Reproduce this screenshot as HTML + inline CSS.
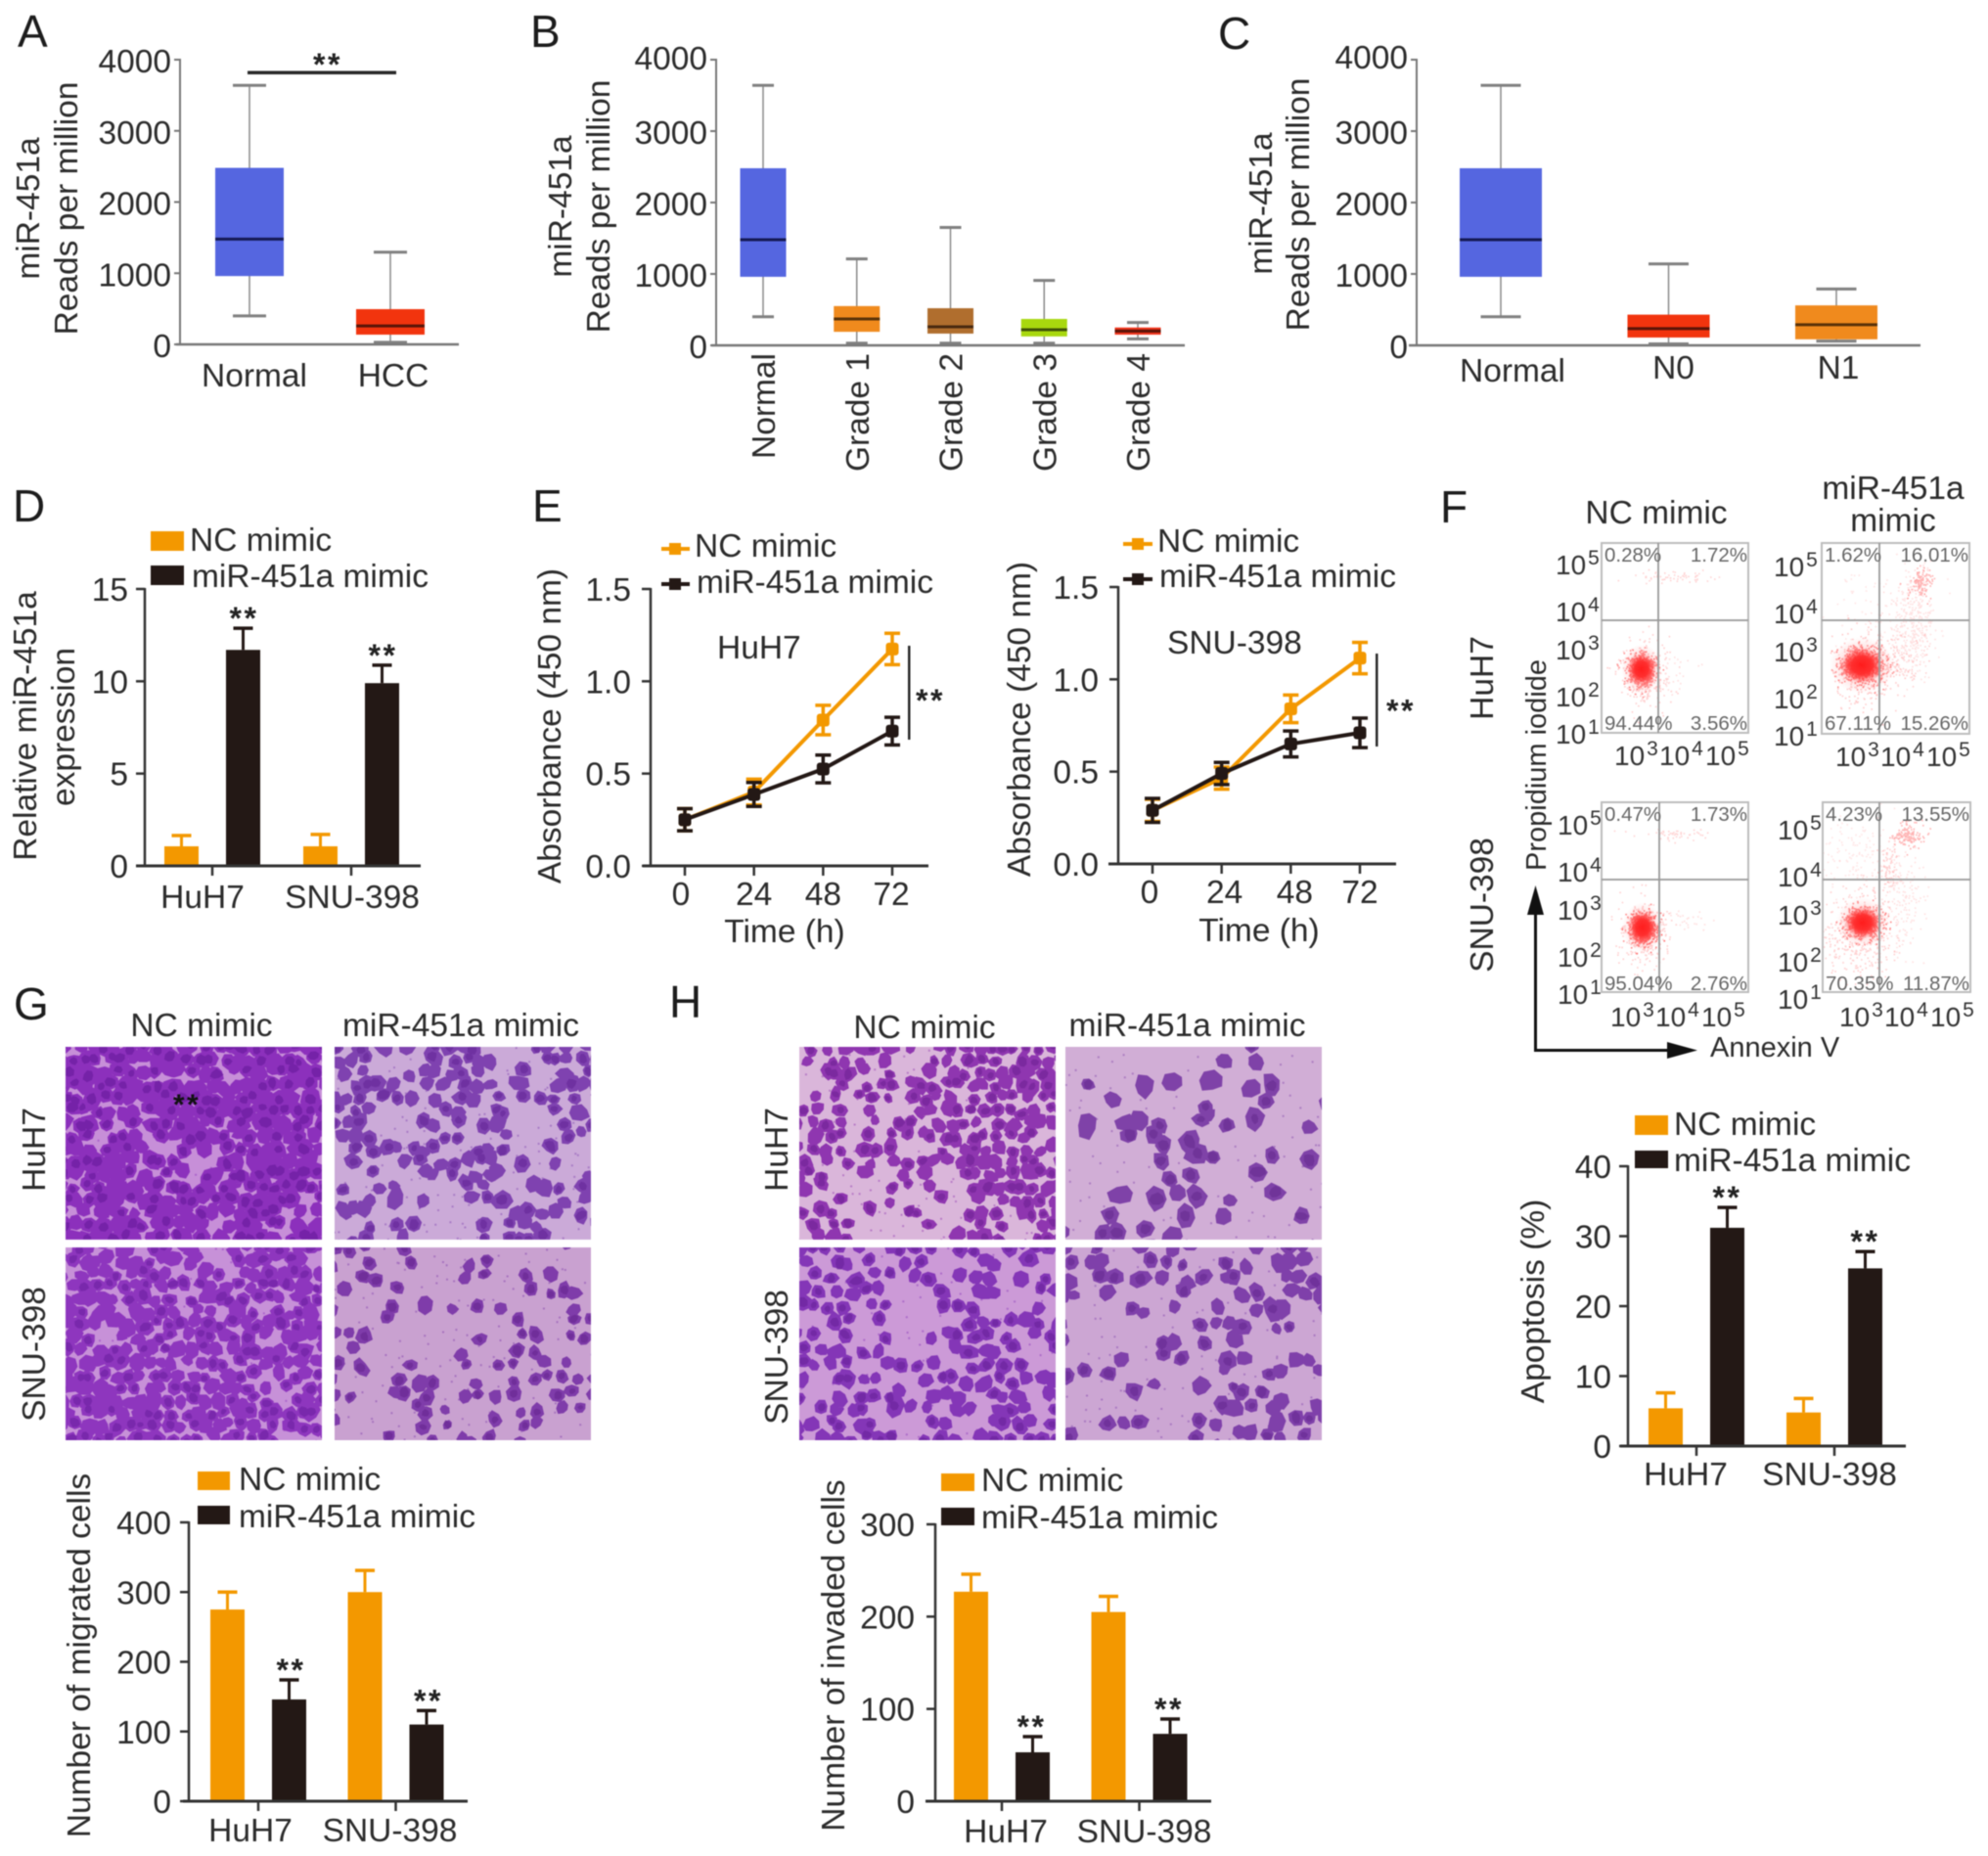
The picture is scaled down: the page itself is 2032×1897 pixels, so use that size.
<!DOCTYPE html>
<html lang="en">
<head>
<meta charset="utf-8">
<title>miR-451a figure panels A-H</title>
<style>
html,body{margin:0;padding:0;background:#fff;}
#figure{display:block;filter:blur(.55px);}
text{font-family:"Liberation Sans",Arial,sans-serif;fill:#2b2b2b;font-size:33.5px;}
.letter{font-size:46px;fill:#1c1c1c;}
.mir{font-size:33.5px;}
.stars{font-weight:bold;font-size:32px;letter-spacing:2.5px;fill:#222;}
.pct{font-size:20.5px;fill:#666;}
.flow{font-size:28px;fill:#333;}
</style>
</head>
<body>
<svg id="figure" xmlns="http://www.w3.org/2000/svg" width="2032" height="1897" viewBox="0 0 2032 1897">
<defs>
<radialGradient id="coreG"><stop offset="0" stop-color="#ff1010"/><stop offset=".5" stop-color="#ff1c1c" stop-opacity=".85"/><stop offset="1" stop-color="#ff4040" stop-opacity="0"/></radialGradient>
<radialGradient id="haloG"><stop offset="0" stop-color="#ff3030" stop-opacity=".4"/><stop offset="1" stop-color="#ff6060" stop-opacity="0"/></radialGradient>
</defs>
<rect width="2032" height="1897" fill="#fff"/>

<g>
<text class="letter" x="18" y="48">A</text>
<text class="letter" x="542" y="48">B</text>
<text class="letter" x="1245" y="50">C</text>
<text class="letter" x="13" y="533">D</text>
<text class="letter" x="544" y="533">E</text>
<text class="letter" x="1472" y="534">F</text>
<text class="letter" x="14" y="1042">G</text>
<text class="letter" x="684" y="1040">H</text>
</g>

<g text-anchor="middle">
<text transform="translate(40,213) rotate(-90)">miR-451a</text>
<text transform="translate(79,213) rotate(-90)">Reads per million</text>
<text transform="translate(584,211) rotate(-90)">miR-451a</text>
<text transform="translate(623,211) rotate(-90)">Reads per million</text>
<text transform="translate(1300,208) rotate(-90)">miR-451a</text>
<text transform="translate(1338,209) rotate(-90)">Reads per million</text>
<text transform="translate(37,742) rotate(-90)">Relative miR-451a</text>
<text transform="translate(76,743) rotate(-90)">expression</text>
<text transform="translate(573,742) rotate(-90)">Absorbance (450 nm)</text>
<text x="802" y="963">Time (h)</text>
<text transform="translate(1053,735) rotate(-90)">Absorbance (450 nm)</text>
<text x="1287" y="962">Time (h)</text>
<text transform="translate(92,1692) rotate(-90)">Number of migrated cells</text>
<text transform="translate(863,1692) rotate(-90)">Number of invaded cells</text>
<text transform="translate(1578,1330) rotate(-90)">Apoptosis (%)</text>
</g>

<g>
<rect x="154" y="543" width="34" height="20" fill="#f39800"/>
<rect x="154" y="578" width="34" height="20" fill="#231815"/>
<text x="194" y="563">NC mimic</text>
<text class="mir" x="196" y="600">miR-451a mimic</text>
</g>
<g>
<path d="M676 561H705" stroke="#f39800" stroke-width="4"/>
<rect x="684" y="555" width="12" height="12" fill="#f39800"/>
<path d="M676 597H705" stroke="#231815" stroke-width="4"/>
<rect x="684" y="591" width="12" height="12" fill="#231815"/>
<text x="710" y="569">NC mimic</text>
<text class="mir" x="712" y="606">miR-451a mimic</text>
<text x="733" y="673">HuH7</text>
</g>
<g>
<path d="M1148 556H1178" stroke="#f39800" stroke-width="4"/>
<rect x="1157" y="550" width="12" height="12" fill="#f39800"/>
<path d="M1148 592H1178" stroke="#231815" stroke-width="4"/>
<rect x="1157" y="586" width="12" height="12" fill="#231815"/>
<text x="1183" y="564">NC mimic</text>
<text class="mir" x="1185" y="600">miR-451a mimic</text>
<text x="1193" y="668">SNU-398</text>
</g>
<g>
<rect x="202" y="1504" width="33" height="19" fill="#f39800"/>
<rect x="202" y="1539" width="33" height="19" fill="#231815"/>
<text x="244" y="1523">NC mimic</text>
<text class="mir" x="244" y="1561">miR-451a mimic</text>
</g>
<g>
<rect x="962" y="1506" width="34" height="18" fill="#f39800"/>
<rect x="962" y="1541" width="34" height="18" fill="#231815"/>
<text x="1003" y="1524">NC mimic</text>
<text class="mir" x="1003" y="1562">miR-451a mimic</text>
</g>
<g>
<rect x="1671" y="1140" width="34" height="20" fill="#f39800"/>
<rect x="1671" y="1176" width="34" height="18" fill="#231815"/>
<text x="1711" y="1160">NC mimic</text>
<text class="mir" x="1711" y="1197">miR-451a mimic</text>
</g>

<g text-anchor="middle">
<text x="206" y="1059">NC mimic</text>
<text class="mir" x="471" y="1059">miR-451a mimic</text>
<text x="945" y="1061">NC mimic</text>
<text class="mir" x="1213.500" y="1059">miR-451a mimic</text>
<text transform="translate(46,1175) rotate(-90)">HuH7</text>
<text transform="translate(46,1384) rotate(-90)">SNU-398</text>
<text transform="translate(805,1175) rotate(-90)">HuH7</text>
<text transform="translate(805,1387) rotate(-90)">SNU-398</text>
</g>

<g text-anchor="middle">
<text x="1693" y="535">NC mimic</text>
<text x="1935" y="510">miR-451a</text>
<text x="1935" y="543">mimic</text>
<text transform="translate(1526,693) rotate(-90)">HuH7</text>
<text transform="translate(1526,925) rotate(-90)">SNU-398</text>
<text transform="translate(1580,782) rotate(-90)" style="font-size:29px">Propidium iodide</text>
</g>
<g>
<path d="M1569.500 930V1073.500H1708" fill="none" stroke="#111" stroke-width="3"/>
<polygon points="1569.500,905 1561,935 1578,935" fill="#111"/>
<polygon points="1735,1073.500 1704,1065 1704,1082" fill="#111"/>
<text x="1748" y="1080" style="font-size:29px">Annexin V</text>
</g>

<text class="stars" x="335" y="77" text-anchor="middle">**</text>
<rect x="253" y="72.500" width="152" height="3.500" fill="#2a2a2a"/>
<rect x="928" y="660" width="2.500" height="96" fill="#2a2a2a"/>
<text class="stars" x="951" y="727" text-anchor="middle">**</text>
<rect x="1406" y="668" width="2.500" height="95" fill="#2a2a2a"/>
<text class="stars" x="1432" y="737.500" text-anchor="middle">**</text>
<g id="marks"></g>
<text class="stars" x="191" y="1139" text-anchor="middle" style="font-size:30px;fill:#111">**</text>
</svg>

<script>
// ---- Panel A box plot ----
const aCategories = ["Normal", "HCC"];
const aWhiskerHigh = [3640, 1295];
const aQ3 = [2480, 495];
const aMedian = [1480, 260];
const aQ1 = [960, 137];
const aWhiskerLow = [400, 30];
// ---- Panel B box plot ----
const bCategories = ["Normal", "Grade 1", "Grade 2", "Grade 3", "Grade 4"];
const bWhiskerHigh = [3640, 1210, 1650, 910, 320];
const bQ3 = [2480, 550, 520, 370, 250];
const bMedian = [1480, 370, 260, 220, 200];
const bQ1 = [960, 190, 165, 125, 150];
const bWhiskerLow = [400, 30, 30, 30, 90];
// ---- Panel C box plot ----
const cCategories = ["Normal", "N0", "N1"];
const cWhiskerHigh = [3640, 1140, 790];
const cQ3 = [2480, 430, 560];
const cMedian = [1480, 235, 290];
const cQ1 = [960, 110, 85];
const cWhiskerLow = [400, 20, 60];
const boxTicks = [0, 1000, 2000, 3000, 4000];
// ---- Bar charts ----
const barCategories = ["HuH7", "SNU-398"];
const dNc = [1.06, 1.06];
const dNcErr = [0.58, 0.64];
const dMir = [11.7, 9.9];
const dMirErr = [1.17, 0.97];
const dTicks = [0, 5, 10, 15];
const fNc = [5.4, 4.8];
const fNcErr = [2.2, 2.0];
const fMir = [31.2, 25.4];
const fMirErr = [2.9, 2.4];
const fTicks = [0, 10, 20, 30, 40];
const gNc = [275, 300];
const gNcErr = [25, 31];
const gMir = [146, 110];
const gMirErr = [28, 20];
const gTicks = [0, 100, 200, 300, 400];
const hNc = [227, 205];
const hNcErr = [19, 17];
const hMir = [53, 73];
const hMirErr = [17, 16];
const hTicks = [0, 100, 200, 300];
// ---- Line charts ----
const timeHours = [0, 24, 48, 72];
const absorbanceTicks = ["0.0", "0.5", "1.0", "1.5"];
const e1Nc = [0.25, 0.40, 0.79, 1.175];
const e1NcErr = [0.06, 0.07, 0.08, 0.085];
const e1Mir = [0.25, 0.387, 0.525, 0.73];
const e1MirErr = [0.06, 0.065, 0.075, 0.075];
const e2Nc = [0.29, 0.465, 0.84, 1.115];
const e2NcErr = [0.06, 0.06, 0.075, 0.085];
const e2Mir = [0.29, 0.49, 0.65, 0.71];
const e2MirErr = [0.065, 0.06, 0.07, 0.08];
// ---- Flow cytometry quadrant values ----
const flowPercents = [
  ["0.28%", "1.72%", "94.44%", "3.56%"],
  ["1.62%", "16.01%", "67.11%", "15.26%"],
  ["0.47%", "1.73%", "95.04%", "2.76%"],
  ["4.23%", "13.55%", "70.35%", "11.87%"]
];
const flowExponents = [5, 4, 3, 2, 1];
const flowXExponents = [3, 4, 5];
// ---- Micrograph cell-density maps (0-9 per region, top to bottom) ----
const densityGTL = ["999998","999986","869998","985899","998997","889898"];
const densityGTR = ["656747","646635","636632","456822","235734","522484"];
const densityGBL = ["888788","887788","888888","899888","999987","999987"];
const densityGBR = ["633433","343355","423455","633453","555466","344353"];
const densityHTL = ["466789","556889","646978","636778","425579","323477"];
const densityHTR = ["111453","243464","666533","324332","134432","255121"];
const densityHBL = ["866677","875677","555676","756676","575776","686877"];
const densityHBR = ["454357","353357","334643","423744","222654","334435"];

const NS = "http://www.w3.org/2000/svg";
const root = document.getElementById("marks");
const ORANGE = "#f39800", DARK = "#231815", AXIS = "#333", BOXAXIS = "#777";

function add(parent, tag, name, attrs) {
  const e = document.createElementNS(NS, tag);
  
  
  for (const k in attrs) e.setAttribute(k, attrs[k]);
  parent.appendChild(e);
  return e;
}
function label(parent, name, str, attrs) {
  const e = add(parent, "text", name, attrs);
  e.textContent = str;
  return e;
}
function seg(parent, name, x1, y1, x2, y2, color, w) {
  return add(parent, "line", name, {x1, y1, x2, y2, stroke: color, "stroke-width": w});
}
function linear(v0, v1, p0, p1) {
  return v => p0 + (v - v0) / (v1 - v0) * (p1 - p0);
}

function drawBoxChart(id, cfg, cats, hi, q3, med, q1, lo) {
  const g = add(root, "g", id + "-chart", {});
  const y = linear(0, 4000, cfg.y0, cfg.yTop);
  seg(g, id + "-y-axis", cfg.axisX, y(4000) - 1, cfg.axisX, y(0), BOXAXIS, 2);
  seg(g, id + "-x-axis", cfg.xStart, y(0), cfg.xEnd, y(0), BOXAXIS, 2.5);
  boxTicks.forEach(t => {
    seg(g, id + "-y-tick", cfg.axisX - 6, y(t), cfg.axisX, y(t), BOXAXIS, 2);
    const dy = t === 4000 ? cfg.topDy : 0;
    label(g, id + "-y-tick-label", String(t), {x: cfg.axisX - 9, y: y(t) + 13 + dy, "text-anchor": "end"});
  });
  cats.forEach((c, i) => {
    const cx = cfg.start + cfg.step * i;
    const b = add(g, "g", id + "-box-" + c.toLowerCase().replace(/ /g, "-"), {});
    seg(b, "whisker-line", cx, y(hi[i]), cx, y(lo[i]), "#8a8a8a", 1.5);
    seg(b, "whisker-cap-high", cx - cfg.cap / 2, y(hi[i]), cx + cfg.cap / 2, y(hi[i]), "#808080", 3);
    seg(b, "whisker-cap-low", cx - cfg.cap / 2, y(lo[i]), cx + cfg.cap / 2, y(lo[i]), "#808080", 3);
    add(b, "rect", "interquartile-box", {x: cx - cfg.width / 2, y: y(q3[i]), width: cfg.width, height: y(q1[i]) - y(q3[i]), fill: cfg.colors[i]});
    seg(b, "median-line", cx - cfg.width / 2, y(med[i]), cx + cfg.width / 2, y(med[i]), cfg.medianColors[i], 3);
    if (cfg.rotate) {
      label(g, id + "-x-label", c, {transform: "translate(" + (cx + 12) + "," + (y(0) + cfg.labelGap) + ") rotate(-90)", "text-anchor": "end"});
    } else {
      label(g, id + "-x-label", c, {x: cx + cfg.labelDx[i], y: cfg.labelY[i], "text-anchor": "middle"});
    }
  });
}

drawBoxChart("a", {axisX: 184, xStart: 180, xEnd: 469, y0: 352, yTop: 61, start: 255, step: 144, width: 70, cap: 34, topDy: 0,
  colors: ["#5566e0", "#f2340e"], medianColors: ["#151a55", "#5a1408"], labelDx: [5, 3], labelY: [395, 395]},
  aCategories, aWhiskerHigh, aQ3, aMedian, aQ1, aWhiskerLow);
drawBoxChart("b", {axisX: 732, xStart: 727, xEnd: 1211, y0: 353, yTop: 61, start: 780, step: 95.75, width: 47, cap: 22, rotate: true, labelGap: 8, topDy: -3,
  colors: ["#5566e0", "#f08a1d", "#b06e2e", "#a8d80e", "#f0321a"], medianColors: ["#151a55", "#5a3208", "#4a2a10", "#3f5208", "#5a1408"]},
  bCategories, bWhiskerHigh, bQ3, bMedian, bQ1, bWhiskerLow);
drawBoxChart("c", {axisX: 1448, xStart: 1440, xEnd: 1963, y0: 353, yTop: 61, start: 1534, step: 171.5, width: 84, cap: 41, topDy: -4,
  colors: ["#5566e0", "#f2340e", "#f08a1d"], medianColors: ["#151a55", "#5a1408", "#5a3208"], labelDx: [12, 5, 2], labelY: [390, 387, 387]},
  cCategories, cWhiskerHigh, cQ3, cMedian, cQ1, cWhiskerLow);

function drawBarChart(id, cfg, nc, ncErr, mir, mirErr, ticks) {
  const g = add(root, "g", id + "-chart", {});
  const y = linear(0, ticks[ticks.length - 1], cfg.y0, cfg.yTop);
  function bar(name, cx, v, err, color) {
    seg(g, name + "-error-stem", cx, y(v + err), cx, y(v), color, 3);
    seg(g, name + "-error-cap", cx - 10, y(v + err), cx + 10, y(v + err), color, 3.5);
    add(g, "rect", name, {x: cx - cfg.barW / 2, y: y(v), width: cfg.barW, height: cfg.y0 - y(v), fill: color});
  }
  barCategories.forEach((c, i) => {
    const cx = cfg.start + cfg.step * i;
    const key = id + "-" + c.toLowerCase().replace("-", "");
    bar(key + "-nc-bar", cx - cfg.offset, nc[i], ncErr[i], ORANGE);
    bar(key + "-mir-bar", cx + cfg.offset, mir[i], mirErr[i], DARK);
    label(g, key + "-stars", "**", {class: "stars", x: cx + cfg.offset + cfg.starDx, y: y(mir[i] + mirErr[i]) + 1, "text-anchor": "middle"});
    seg(g, key + "-x-tick", cx, cfg.y0, cx, cfg.y0 + 10, AXIS, 2.5);
    label(g, key + "-x-label", c, {x: cx + cfg.labelDx[i], y: cfg.labelY, "text-anchor": "middle"});
  });
  seg(g, id + "-y-axis", cfg.axisX, cfg.yTop - 1, cfg.axisX, cfg.y0, AXIS, 2.5);
  seg(g, id + "-x-axis", cfg.xStart, cfg.y0, cfg.xEnd, cfg.y0, AXIS, 3);
  ticks.forEach(t => {
    seg(g, id + "-y-tick", cfg.axisX - 9, y(t), cfg.axisX, y(t), AXIS, 2.5);
    label(g, id + "-y-tick-label", String(t), {x: cfg.axisX - cfg.tickGap, y: y(t) + 12, "text-anchor": "end"});
  });
}
drawBarChart("d", {axisX: 148, xStart: 139, xEnd: 430, y0: 885, yTop: 602, start: 217, step: 142, offset: 31.5, barW: 35, starDx: 1, labelDx: [-10, 1], labelY: 928, tickGap: 17}, dNc, dNcErr, dMir, dMirErr, dTicks);
drawBarChart("fbar", {axisX: 1664, xStart: 1656, xEnd: 1948, y0: 1478, yTop: 1192, start: 1734, step: 141, offset: 31.5, barW: 35, starDx: 0, labelDx: [-11, -5], labelY: 1518, tickGap: 17}, fNc, fNcErr, fMir, fMirErr, fTicks);
drawBarChart("g", {axisX: 193, xStart: 187, xEnd: 478, y0: 1841, yTop: 1556, start: 264, step: 140.500, offset: 31.5, barW: 35, starDx: 2, labelDx: [-8, -6], labelY: 1882, tickGap: 18}, gNc, gNcErr, gMir, gMirErr, gTicks);
drawBarChart("h", {axisX: 956, xStart: 946, xEnd: 1238, y0: 1841, yTop: 1558, start: 1024, step: 140.500, offset: 31.5, barW: 35, starDx: -1, labelDx: [4, 5], labelY: 1883, tickGap: 21}, hNc, hNcErr, hMir, hMirErr, hTicks);

function drawLineChart(id, cfg, nc, ncErr, mir, mirErr) {
  const g = add(root, "g", id + "-chart", {});
  const x = linear(0, 72, cfg.x0, cfg.x72);
  const y = linear(0, 1.5, cfg.y0, cfg.yTop);
  seg(g, id + "-y-axis", cfg.axisX, cfg.yTop - 1, cfg.axisX, cfg.y0, AXIS, 2.5);
  seg(g, id + "-x-axis", cfg.xStart, cfg.y0, cfg.xEnd, cfg.y0, AXIS, 3);
  absorbanceTicks.forEach(t => {
    seg(g, id + "-y-tick", cfg.axisX - 9, y(+t), cfg.axisX, y(+t), AXIS, 2.5);
    label(g, id + "-y-tick-label", t, {x: cfg.axisX - 20, y: y(+t) + 12, "text-anchor": "end"});
  });
  timeHours.forEach((t, i) => {
    seg(g, id + "-x-tick", x(t), cfg.y0, x(t), cfg.y0 + 10, AXIS, 2.5);
    label(g, id + "-x-label", String(t), {x: x(t) + cfg.labelDx[i], y: cfg.labelY, "text-anchor": "middle"});
  });
  function series(name, vals, errs, color) {
    const pts = vals.map((v, i) => x(timeHours[i]).toFixed(1) + "," + y(v).toFixed(1)).join(" ");
    add(g, "polyline", name + "-line", {points: pts, fill: "none", stroke: color, "stroke-width": 4});
    vals.forEach((v, i) => {
      const cx = x(timeHours[i]);
      seg(g, name + "-error-stem", cx, y(v + errs[i]), cx, y(v - errs[i]), color, 3.5);
      seg(g, name + "-error-cap-top", cx - 8, y(v + errs[i]), cx + 8, y(v + errs[i]), color, 3.5);
      seg(g, name + "-error-cap-bottom", cx - 8, y(v - errs[i]), cx + 8, y(v - errs[i]), color, 3.5);
      add(g, "rect", name + "-point", {x: cx - 6.5, y: y(v) - 6.5, width: 13, height: 13, rx: 3, fill: color});
    });
  }
  series(id + "-nc", nc, ncErr, ORANGE);
  series(id + "-mir", mir, mirErr, DARK);
}
drawLineChart("e1", {axisX: 665, xStart: 657, xEnd: 949, y0: 885, yTop: 602, x0: 700, x72: 912, labelDx: [-4, 0, 0, -1], labelY: 925}, e1Nc, e1NcErr, e1Mir, e1MirErr);
drawLineChart("e2", {axisX: 1143, xStart: 1133, xEnd: 1427, y0: 883, yTop: 600, x0: 1178, x72: 1390, labelDx: [-3, 3, 4, 0], labelY: 923}, e2Nc, e2NcErr, e2Mir, e2MirErr);

function noise(i) {
  const s = Math.sin(i * 127.1 + 311.7) * 43758.5453;
  return s - Math.floor(s);
}

// Flow cytometry frames, quadrant gates and labels
const flowFrames = [
  {name: "huh7-nc", left: 1637, right: 1787, top: 555, bottom: 749, vx: 1695, hy: 634, yLabelX: 1590, yLabelTop: 587, xLabelLeft: 1650, xLabelY: 782, pctTop: 574, pctBottom: 746},
  {name: "huh7-mir", left: 1862, right: 2013, top: 555, bottom: 750, vx: 1921, hy: 634, yLabelX: 1813, yLabelTop: 589, xLabelLeft: 1876, xLabelY: 783, pctTop: 574, pctBottom: 746},
  {name: "snu398-nc", left: 1637, right: 1787, top: 820, bottom: 1014, vx: 1696, hy: 899, yLabelX: 1592, yLabelTop: 853, xLabelLeft: 1646, xLabelY: 1049, pctTop: 839, pctBottom: 1012},
  {name: "snu398-mir", left: 1863, right: 2014, top: 820, bottom: 1014, vx: 1921, hy: 899, yLabelX: 1817, yLabelTop: 858, xLabelLeft: 1880, xLabelY: 1049, pctTop: 839, pctBottom: 1012}
];
const flowYOffsets = [0, 48, 87, 135, 173];
const flowXOffsets = [0, 46, 93];
// Event-cloud texture: relative to each frame's gate crossing
const flowClouds = [
  [[-17, 50, 7, 8, 600, .5], [-15, 54, 12, 17, 300, .22], [20, -45, 22, 3, 60, .2], [15, 56, 13, 12, 40, .15]],
  [[-18, 46, 11, 9, 650, .5], [-16, 51, 18, 19, 340, .24], [14, 40, 15, 13, 120, .2], [32, 1, 11, 28, 350, .14], [42, -40, 6, 8, 120, .35], [-21, -14, 18, 32, 60, .12]],
  [[-17, 49, 7, 8, 700, .55], [-15, 54, 12, 17, 300, .22], [17, -47, 18, 3, 50, .2], [20, 42, 15, 6, 30, .15]],
  [[-17, 44, 9, 8, 550, .5], [-24, 54, 18, 22, 400, .22], [24, 21, 11, 28, 170, .14], [9, -14, 5, 13, 70, .22], [29, -46, 8, 6, 150, .35], [-26, -29, 20, 22, 130, .12]]
];
function powerLabel(g, name, exp, x, y) {
  const t = label(g, name, "10", {class: "flow", x, y});
  const s = document.createElementNS(NS, "tspan");
  s.setAttribute("dy", "-10");
  s.setAttribute("dx", "2");
  s.setAttribute("style", "font-size:21px");
  s.textContent = String(exp);
  t.appendChild(s);
}
flowFrames.forEach((f, i) => {
  const g = add(root, "g", "flow-plot-" + f.name, {});
  let k = 900 + i * 5000;
  flowClouds[i].forEach((c, ci) => {
    const cx = f.vx + c[0], cy = f.hy + c[1];
    if (ci === 0) {
      add(g, "ellipse", "flow-event-halo", {cx, cy, rx: c[2] * 3, ry: c[3] * 3.2, fill: "url(#haloG)"});
      add(g, "ellipse", "flow-event-core", {cx, cy, rx: c[2] * 2, ry: c[3] * 2, fill: "url(#coreG)"});
    }
    let d = "";
    for (let n = 0; n < c[4]; n++) {
      k += 3;
      const u = Math.max(noise(k), 0.001), v = noise(k + 1);
      const m = Math.sqrt(-2 * Math.log(u));
      const X = cx + m * Math.cos(6.283 * v) * c[2];
      const Y = cy + m * Math.sin(6.283 * v) * c[3];
      if (X > f.left && X < f.right && Y > f.top && Y < f.bottom) d += "M" + X.toFixed(1) + " " + Y.toFixed(1) + "h1.6v1.6h-1.6z";
    }
    add(g, "path", "flow-events", {d, fill: "#ff2a2a", opacity: c[5]});
  });
  add(g, "rect", "flow-frame", {x: f.left, y: f.top, width: f.right - f.left, height: f.bottom - f.top, fill: "none", stroke: "#bdbdbd", "stroke-width": 2});
  seg(g, "flow-gate-vertical", f.vx, f.top, f.vx, f.bottom, "#999", 1.8);
  seg(g, "flow-gate-horizontal", f.left, f.hy, f.right, f.hy, "#999", 1.8);
  const p = flowPercents[i];
  label(g, "flow-percent-upper-left", p[0], {class: "pct", x: f.left + 3, y: f.pctTop});
  label(g, "flow-percent-upper-right", p[1], {class: "pct", x: f.right - 1, y: f.pctTop, "text-anchor": "end"});
  label(g, "flow-percent-lower-left", p[2], {class: "pct", x: f.left + 3, y: f.pctBottom});
  label(g, "flow-percent-lower-right", p[3], {class: "pct", x: f.right - 1, y: f.pctBottom, "text-anchor": "end"});
  flowExponents.forEach((e, k2) => powerLabel(g, "flow-y-tick-label", e, f.yLabelX, f.yLabelTop + flowYOffsets[k2]));
  flowXExponents.forEach((e, k2) => powerLabel(g, "flow-x-tick-label", e, f.xLabelLeft + flowXOffsets[k2], f.xLabelY));
});

// Micrograph textures: deterministic polygons following the density maps
const micrographs = [
  {name: "g-huh7-nc", x: 67, y: 1070, grid: densityGTL, bg: "#c78fd8", cell: "#8c30bc", core: "#6d1ea2", step: 13, r: 8.5, seed: 11},
  {name: "g-huh7-mir", x: 342, y: 1070, grid: densityGTR, bg: "#cbaad8", cell: "#7f42b0", core: "#6a2c9c", step: 13, r: 7.5, seed: 23},
  {name: "g-snu398-nc", x: 67, y: 1275, grid: densityGBL, bg: "#c791d8", cell: "#8e36be", core: "#7124a6", step: 13, r: 7.5, seed: 37},
  {name: "g-snu398-mir", x: 342, y: 1275, grid: densityGBR, bg: "#c9a1d0", cell: "#7f3caa", core: "#6b2a94", step: 15, r: 7, seed: 41},
  {name: "h-huh7-nc", x: 817, y: 1070, grid: densityHTL, bg: "#dab6da", cell: "#8f36b0", core: "#74259a", step: 13, r: 7, seed: 53},
  {name: "h-huh7-mir", x: 1089, y: 1070, grid: densityHTR, bg: "#d1aed6", cell: "#7f42a8", core: "#6b3094", step: 19, r: 9.5, seed: 67},
  {name: "h-snu398-nc", x: 817, y: 1275, grid: densityHBL, bg: "#cc9ad7", cell: "#8436b7", core: "#6e269f", step: 15, r: 7.5, seed: 71},
  {name: "h-snu398-mir", x: 1089, y: 1275, grid: densityHBR, bg: "#cca6d3", cell: "#7f40aa", core: "#6b2e96", step: 16, r: 8, seed: 83}
];
const MW = 262, MH = 197;
function blob(cx, cy, r, k) {
  let d = "";
  const n = 7, stretch = 0.8 + noise(k) * 0.55, rot = noise(k + 1) * 6.28;
  for (let a = 0; a < n; a++) {
    const ang = a / n * 6.283;
    const rr = r * (0.8 + noise(k + a + 2) * 0.4);
    const px = Math.cos(ang) * rr * stretch, py = Math.sin(ang) * rr;
    const X = cx + px * Math.cos(rot) - py * Math.sin(rot);
    const Y = cy + px * Math.sin(rot) + py * Math.cos(rot);
    d += (a ? "L" : "M") + X.toFixed(1) + " " + Y.toFixed(1);
  }
  return d + "Z";
}
micrographs.forEach(m => {
  const s = add(root, "svg", "micrograph-" + m.name, {x: m.x, y: m.y, width: MW, height: MH, viewBox: "0 0 " + MW + " " + MH});
  add(s, "rect", "micrograph-background", {width: MW, height: MH, fill: m.bg});
  let cells = "", cores = "", specks = "", k = m.seed * 1000;
  for (let r = 0; r * m.step < MH + m.step; r++) {
    for (let c = -1; c * m.step < MW + m.step; c++) {
      const x = c * m.step + (r % 2) * m.step / 2, y = r * m.step;
      const gy = Math.min(5, Math.max(0, Math.floor(y / MH * 6)));
      const gx = Math.min(5, Math.max(0, Math.floor(x / MW * 6)));
      const density = Math.pow(+m.grid[gy][gx] / 9, 1.3);
      k += 13;
      if (noise(k) < density * 1.05) {
        const cx = x + (noise(k + 20) - 0.5) * m.step * 0.6;
        const cy = y + (noise(k + 21) - 0.5) * m.step * 0.6;
        const rad = m.r * (0.8 + noise(k + 22) * 0.4);
        cells += blob(cx, cy, rad, k + 30);
        if (noise(k + 23) < 0.55) cores += blob(cx, cy, rad * 0.55, k + 40);
      } else if (noise(k + 24) < 0.8) {
        const cx = x + noise(k + 25) * m.step, cy = y + noise(k + 26) * m.step;
        specks += "M" + cx.toFixed(1) + " " + cy.toFixed(1) + "h2v2h-2z";
      }
    }
  }
  add(s, "path", "micrograph-debris", {d: specks, fill: m.cell, opacity: 0.45});
  add(s, "path", "micrograph-cells", {d: cells, fill: m.cell});
  add(s, "path", "micrograph-nuclei", {d: cores, fill: m.core, opacity: 0.75});
});
</script>
</body>
</html>
